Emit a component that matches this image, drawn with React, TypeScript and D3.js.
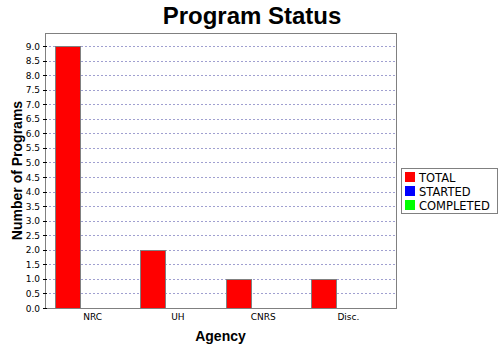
import React from "react";
import * as d3 from "d3";

const categories = ["NRC", "UH", "CNRS", "Disc."];
const seriesNames = ["TOTAL", "STARTED", "COMPLETED"];
const seriesColors = ["#ff0000", "#0000ff", "#00ff00"];
const totalValues = [9, 2, 1, 1];
const startedValues = [0, 0, 0, 0];
const completedValues = [0, 0, 0, 0];
const yTicks = [0, 0.5, 1, 1.5, 2, 2.5, 3, 3.5, 4, 4.5, 5, 5.5, 6, 6.5, 7, 7.5, 8, 8.5, 9];

const W = 500, H = 350;
const plot = { left: 45, top: 33, right: 396, bottom: 308 };

export default function App() {
  const series = [totalValues, startedValues, completedValues];
  const maxV = d3.max(series.flat()) as number;
  const y = d3.scaleLinear().domain([0, maxV * 1.05]).range([plot.bottom, plot.top]);
  const x = d3.scaleBand<string>().domain(categories).range([plot.left, plot.right])
    .paddingInner(10 / 85).paddingOuter(10 / 85);
  const xi = d3.scaleBand<number>().domain(d3.range(seriesNames.length)).range([0, x.bandwidth()]).padding(0);
  const fmt = d3.format(".1f");
  const legendX = 401, legendY = 168;

  return (
    <svg width={W} height={H} style={{ position: "absolute", left: 0, top: 0 }}>
      <rect x={0} y={0} width={W} height={H} fill="#fff" />
      <text x={252} y={24} textAnchor="middle" fontFamily="Liberation Sans, Arial, sans-serif" fontWeight="bold" fontSize={24}>Program Status</text>
      {/* grid */}
      {yTicks.filter(t => t > 0).map(t => (
        <line key={t} x1={plot.left} x2={plot.right} y1={Math.round(y(t)) + 0.5} y2={Math.round(y(t)) + 0.5}
          stroke="#a0a0d0" strokeDasharray="2,2" strokeWidth={1} />
      ))}
      {/* bars */}
      {categories.map((c, ci) => series.map((vals, si) => {
        const v = vals[ci];
        if (!v) return null;
        const x0 = (x(c) as number) + (xi(si) as number);
        return (
          <rect key={c + si} x={Math.round(x0) + 0.5} y={Math.round(y(v)) + 0.5} width={Math.round(xi.bandwidth())}
            height={Math.round(y(0)) - Math.round(y(v))} fill={seriesColors[si]} stroke="#808080" strokeWidth={1} />
        );
      }))}
      {/* plot border */}
      <rect x={plot.left + 0.5} y={plot.top + 0.5} width={plot.right - plot.left} height={plot.bottom - plot.top}
        fill="none" stroke="#808080" strokeWidth={1} />
      {/* y ticks */}
      {yTicks.map(t => (
        <g key={t}>
          <line x1={plot.left - 2} x2={plot.left + 2} y1={Math.round(y(t)) + 0.5} y2={Math.round(y(t)) + 0.5} stroke="#000" />
          <text x={40} y={y(t) + 3.5} textAnchor="end" fontFamily="DejaVu Sans, sans-serif" fontSize={9} fill="#000">{fmt(t)}</text>
        </g>
      ))}
      {/* x labels */}
      {categories.map(c => (
        <text key={c} x={(x(c) as number) + x.bandwidth() / 2} y={320} textAnchor="middle"
          fontFamily="DejaVu Sans, sans-serif" fontSize={9} fill="#000">{c}</text>
      ))}
      <text x={(plot.left + plot.right) / 2} y={341} textAnchor="middle" fontFamily="Liberation Sans, Arial, sans-serif"
        fontWeight="bold" fontSize={14}>Agency</text>
      <text transform={`translate(22, ${(plot.top + plot.bottom) / 2}) rotate(-90)`} textAnchor="middle"
        fontFamily="Liberation Sans, Arial, sans-serif" fontWeight="bold" fontSize={14}>Number of Programs</text>
      {/* legend */}
      <rect x={legendX + 0.5} y={legendY + 0.5} width={96} height={45} fill="#fff" stroke="#808080" />
      {seriesNames.map((s, i) => (
        <g key={s}>
          <rect x={legendX + 4} y={legendY + 4 + i * 14} width={10} height={10} fill={seriesColors[i]} />
          <text x={legendX + 18} y={legendY + 13.5 + i * 14} fontFamily="DejaVu Sans, sans-serif" fontSize={11.5} fill="#000">{s}</text>
        </g>
      ))}
    </svg>
  );
}
